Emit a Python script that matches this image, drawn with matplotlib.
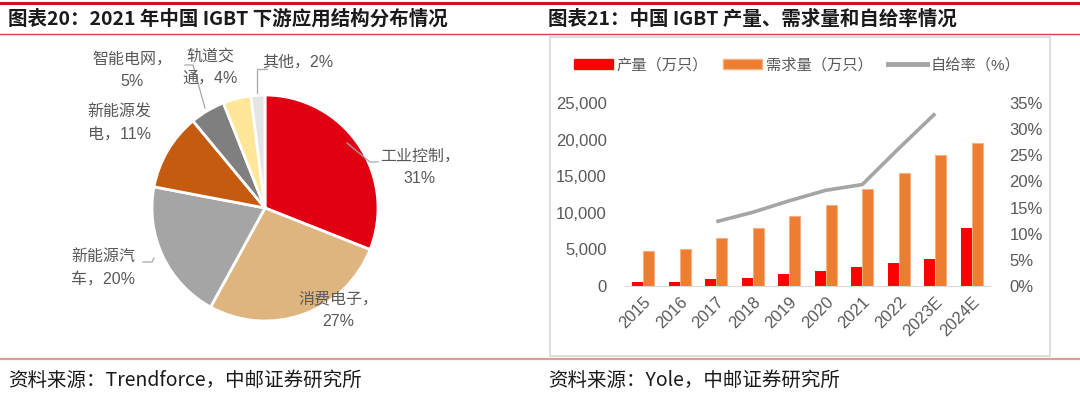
import matplotlib
matplotlib.use("Agg")
import numpy as np
import matplotlib.pyplot as plt
from matplotlib.patches import Patch, Rectangle
from matplotlib.lines import Line2D
from matplotlib.ticker import FuncFormatter, PercentFormatter

plt.rcParams['font.family'] = ['Liberation Sans', 'Noto Sans CJK SC', 'DejaVu Sans']

# pie: 2021 downstream structure
pie_names = ["工业控制", "消费电子", "新能源汽车", "新能源发电", "智能电网", "轨道交通", "其他"]
pie_shares = [31, 27, 20, 11, 5, 4, 2]
pie_colors = ["#E00012", "#DEB47F", "#A5A5A5", "#C55A11", "#7F7F7F", "#FFE699", "#E4E4E4"]

# bars: output / demand / self-sufficiency
years = ["2015", "2016", "2017", "2018", "2019", "2020", "2021", "2022", "2023E", "2024E"]
output = [600, 600, 900, 1100, 1600, 2100, 2600, 3100, 3700, 7900]
demand = [4800, 5100, 6600, 7900, 9500, 11000, 13200, 15500, 17900, 19500]
self_rate = [np.nan, np.nan, 12.3, 14.1, 16.3, 18.3, 19.4, 26.3, 33.0, np.nan]

W, H = 1080, 399
fig = plt.figure(figsize=(W / 100, H / 100), dpi=100)

def fx(px):
    return px / W

def fy(py):
    return 1 - py / H

txt = '#595959'
cjk = ['Noto Sans CJK SC', 'DejaVu Sans']

# header / footer rules
fig.add_artist(Line2D([0, 1], [fy(3), fy(3)], transform=fig.transFigure, color='#C9151E', lw=2.2))
fig.add_artist(Line2D([0, 1], [fy(34), fy(34)], transform=fig.transFigure, color='#D2434A', lw=1.0))
fig.add_artist(Line2D([0, 1], [fy(359), fy(359)], transform=fig.transFigure, color='#E59A9A', lw=1.6))
fig.add_artist(Rectangle((fx(550), fy(356)), fx(500), 319 / H, transform=fig.transFigure,
                         fill=False, edgecolor='#D9D9D9', lw=1.2))

fig.text(fx(8), fy(19), "图表20：2021 年中国 IGBT 下游应用结构分布情况", family=cjk,
         fontsize=14, fontweight='bold', va='center', color='#1a1a1a')
fig.text(fx(548), fy(19), "图表21：中国 IGBT 产量、需求量和自给率情况", family=cjk,
         fontsize=14, fontweight='bold', va='center', color='#1a1a1a')
fig.text(fx(8), fy(380), "资料来源：Trendforce，中邮证券研究所", family=cjk,
         fontsize=14, va='center', color='#1a1a1a')
fig.text(fx(548), fy(380), "资料来源：Yole，中邮证券研究所", family=cjk,
         fontsize=14, va='center', color='#1a1a1a')

# ---- pie ----
R = 113.0
cx, cy = 265, 208
pax = fig.add_axes([fx(15), fy(376), fx(500), 336 / H])
pax.pie(pie_shares, colors=pie_colors, startangle=90, counterclock=False, radius=1,
        wedgeprops=dict(edgecolor='white', linewidth=2))
pax.set_xlim(-250 / R, 250 / R)
pax.set_ylim(-168 / R, 168 / R)
pax.set_aspect('auto')
pax.axis('off')

def d(px, py):
    return ((px - cx) / R, (cy - py) / R)

label_pos = [(420, 167), (338, 310), (103, 268), (119, 123), (132, 70), (210, 67), (298, 62)]
breaks = [5, 5, 4, 4, 5, 3, None]
for name, share, pos, b in zip(pie_names, pie_shares, label_pos, breaks):
    s = f"{name}，{share}%"
    if b:
        s = s[:b] + "\n" + s[b:]
    pax.text(*d(*pos), s, ha='center', va='center', fontsize=11.5, color=txt, linespacing=1.6)

leaders = [
    [(347, 143), (370, 162), (378, 162)],
    [(143, 262), (152, 262), (154, 258)],
    [(205, 108), (193, 65), (185, 65)],
    [(257, 93), (257, 69), (267, 69)],
]
for pts in leaders:
    xy = [d(*p) for p in pts]
    pax.plot([p[0] for p in xy], [p[1] for p in xy], color='#A6A6A6', lw=0.9)

# ---- bars ----
bax = fig.add_axes([fx(625), fy(286), fx(365), 183 / H])
x = np.arange(len(years))
bw = 0.3
bax.bar(x - bw / 2, output, bw, color='#FF0000', label='产量（万只）')
bax.bar(x + bw / 2, demand, bw, color='#ED7D31', edgecolor='#F4B183', linewidth=0.8,
        label='需求量（万只）')
bax.set_xlim(-0.5, len(years) - 0.5)
bax.set_ylim(0, 25000)
bax.set_yticks(range(0, 25001, 5000))
bax.yaxis.set_major_formatter(FuncFormatter(lambda v, p: f"{int(v):,}"))
bax.set_xticks(x)
bax.set_xticklabels(years, rotation=45, ha='right', rotation_mode='anchor')
for s in ['top', 'right', 'left']:
    bax.spines[s].set_visible(False)
bax.spines['bottom'].set_color('#D9D9D9')
bax.tick_params(axis='y', length=0, pad=13, labelsize=12, labelcolor=txt)
bax.tick_params(axis='x', length=0, pad=6, labelsize=12, labelcolor=txt)

rax = bax.twinx()
rax.plot(x, self_rate, color='#A5A5A5', lw=2.6, solid_capstyle='butt', label='自给率（%）')
rax.set_ylim(0, 35)
rax.set_yticks(range(0, 36, 5))
rax.yaxis.set_major_formatter(PercentFormatter(decimals=0))
for s in ['top', 'right', 'left', 'bottom']:
    rax.spines[s].set_visible(False)
rax.tick_params(axis='y', length=0, pad=14, labelsize=12, labelcolor=txt)

handles = [Patch(color='#FF0000'), Patch(facecolor='#ED7D31', edgecolor='#F4B183'),
           Line2D([], [], color='#A5A5A5', lw=3.5)]
labels = ['产量（万只）', '需求量（万只）', '自给率（%）']
fig.legend(handles, labels, loc='center', bbox_to_anchor=(fx(797), fy(65)), ncol=3,
           frameon=False, fontsize=11, handlelength=2.55, handleheight=0.65,
           handletextpad=0.25, columnspacing=1.0, labelcolor=txt)

fig.savefig("out.png", dpi=100)
